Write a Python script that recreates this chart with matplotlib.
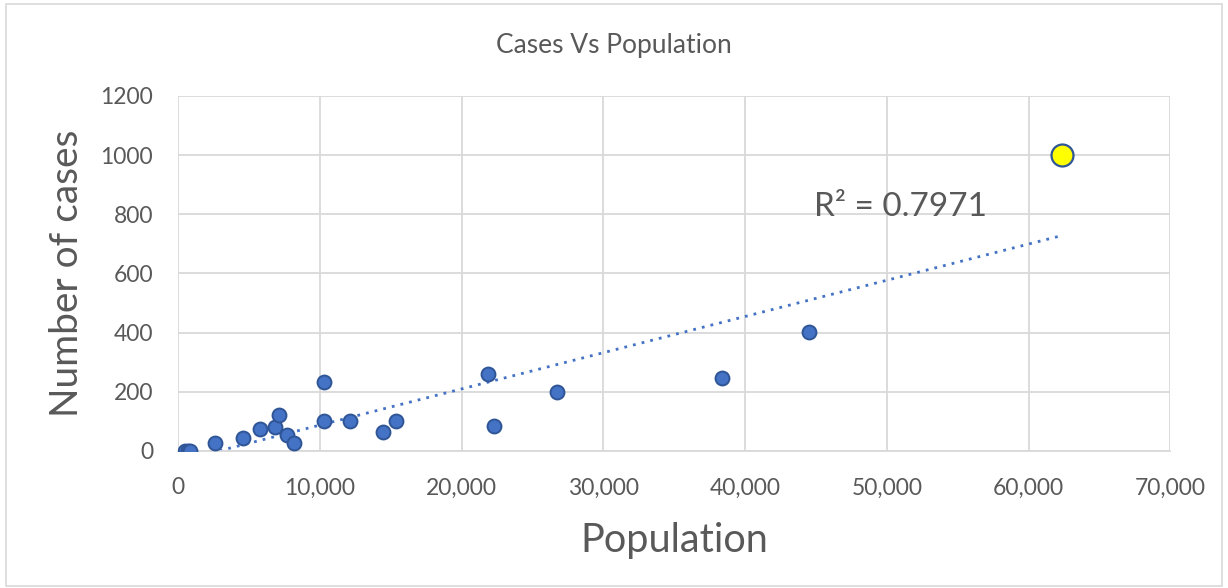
import matplotlib
matplotlib.use('Agg')
from matplotlib import pyplot as plt
from matplotlib.patches import Rectangle
from matplotlib.ticker import FuncFormatter
import numpy as np

# population and case counts
population = [500, 700, 850, 2600, 4600, 5800, 6850, 7150, 7700, 8200,
              10330, 10330, 12100, 14450, 15350, 21900, 22300, 26700,
              38350, 44500]
cases = [1, 1, 1, 28, 43, 73, 80, 123, 54, 28,
         102, 234, 100, 65, 100, 260, 85, 198, 247, 402]
outlier_pop = [62350]
outlier_cases = [1000]

plt.rcParams['font.family'] = ['Lato', 'DejaVu Sans']

fig = plt.figure(figsize=(12.28, 5.88), dpi=100)
ax = fig.add_axes([0.145, 0.233, 0.808, 0.604])

# linear trendline over all points
all_x = np.array(population + outlier_pop, dtype=float)
all_y = np.array(cases + outlier_cases, dtype=float)
slope, intercept = np.polyfit(all_x, all_y, 1)
tx = np.array([all_x.min(), all_x.max()])
ax.plot(tx, slope * tx + intercept, linestyle=(0, (1, 2.2)), color='#4472C4',
        linewidth=2, zorder=2)

ax.scatter(population, cases, s=100, color='#4472C4', edgecolor='#2F5597',
           linewidth=1.4, zorder=3)
ax.scatter(outlier_pop, outlier_cases, s=250, color='#FFFF00', edgecolor='#2F5597',
           linewidth=1.6, zorder=3)

ax.set_xlim(0, 70000)
ax.set_ylim(0, 1200)
ax.set_xticks(range(0, 70001, 10000))
ax.set_yticks(range(0, 1201, 200))
ax.xaxis.set_major_formatter(FuncFormatter(lambda v, p: f'{int(v):,}'))
ax.grid(True, color='#D9D9D9', linewidth=1.3)
ax.set_axisbelow(True)
for s in ['top', 'right', 'left']:
    ax.spines[s].set_visible(False)
ax.spines['bottom'].set_color('#D9D9D9')
ax.spines['bottom'].set_linewidth(1.3)
ax.tick_params(length=0, labelsize=16.5, colors='#595959')
ax.tick_params(axis='x', pad=19)
ax.tick_params(axis='y', pad=18)

ax.text(0.728, 0.688, 'R² = 0.7971', transform=ax.transAxes, fontsize=24,
        color='#595959', ha='center', va='center')

ax.set_xlabel('Population', fontsize=28.5, color='#595959')
ax.set_ylabel('Number of cases', fontsize=28, color='#595959')
ax.xaxis.set_label_coords(0.5, -0.20)
ax.yaxis.set_label_coords(-0.094, 0.5)
fig.text(0.5, 0.923, 'Cases Vs Population', ha='center', va='center',
         fontsize=19, color='#595959')

fig.patches.append(Rectangle((0.005, 0.004), 0.99, 0.99, transform=fig.transFigure,
                             fill=False, edgecolor='#D9D9D9', linewidth=1.2))

fig.savefig('out.png', dpi=100)
